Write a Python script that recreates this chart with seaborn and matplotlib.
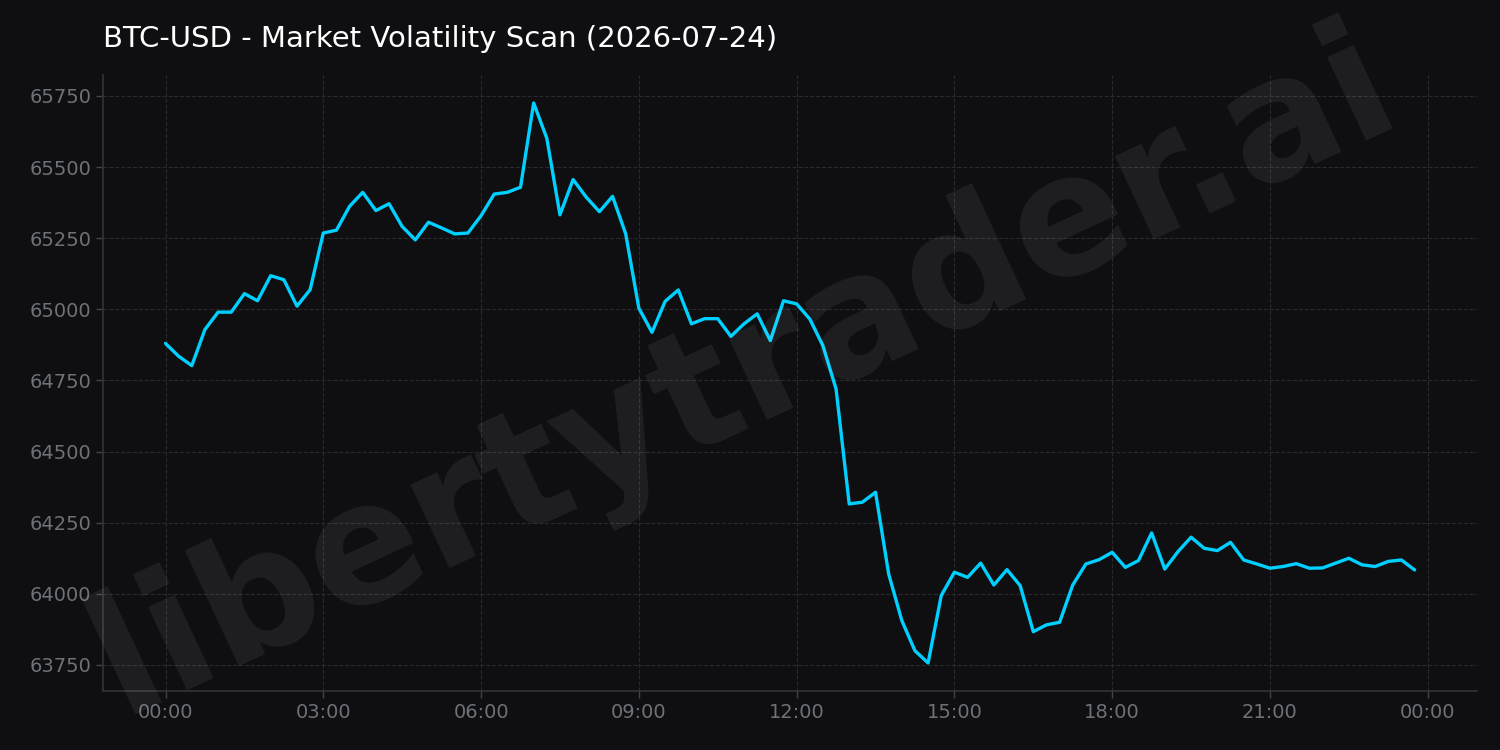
import numpy as np
import pandas as pd
import matplotlib
matplotlib.use("Agg")
import matplotlib.pyplot as plt
import matplotlib.dates as mdates
import seaborn as sns

title = "BTC-USD - Market Volatility Scan (2026-07-24)"
watermark = "libertytrader.ai"
start_time = "2026-07-24 00:00"
step = "15min"
prices = [
    64880, 64835, 64802, 64929, 64990, 64990, 65055, 65030, 65118, 65104,
    65011, 65069, 65268, 65278, 65362, 65411, 65347, 65371, 65291, 65244,
    65306, 65286, 65265, 65268, 65329, 65405, 65411, 65429, 65725, 65601,
    65332, 65456, 65394, 65343, 65397, 65265, 65004, 64919, 65028, 65068,
    64949, 64967, 64967, 64905, 64949, 64984, 64890, 65030, 65019, 64966,
    64872, 64720, 64316, 64322, 64357, 64070, 63906, 63800, 63757, 63994,
    64076, 64058, 64108, 64031, 64085, 64029, 63867, 63891, 63900, 64031,
    64105, 64120, 64146, 64093, 64117, 64214, 64087, 64148, 64199, 64160,
    64152, 64181, 64119, 64105, 64090, 64096, 64106, 64090, 64091, 64108,
    64125, 64102, 64096, 64114, 64119, 64084,
]

times = pd.date_range(start_time, periods=len(prices), freq=step)
df = pd.DataFrame({"time": times, "price": prices})

bg = "#0f0f12"
sns.set_theme(style="dark")
plt.rcParams["font.family"] = ["DejaVu Sans"]

fig, ax = plt.subplots(figsize=(15, 7.5), dpi=100)
fig.patch.set_facecolor(bg)
ax.set_facecolor(bg)
fig.subplots_adjust(left=0.0687, right=0.9847, top=0.9, bottom=0.0787)

sns.lineplot(data=df, x="time", y="price", ax=ax, color="#00d0ff", linewidth=2.4)

ax.xaxis.set_major_locator(mdates.HourLocator(byhour=range(0, 24, 3)))
ax.xaxis.set_major_formatter(mdates.DateFormatter("%H:%M"))
ax.margins(x=0.05, y=0.05)

ax.grid(True, color="#2a2a2e", linestyle="--", linewidth=0.8)
for s in ["top", "right"]:
    ax.spines[s].set_visible(False)
for s in ["left", "bottom"]:
    ax.spines[s].set_color("#333338")
    ax.spines[s].set_linewidth(1.2)
ax.tick_params(colors="#6e7178", labelsize=14, length=5, width=1, color="#444448",
               bottom=True, left=True)
for lbl in ax.get_xticklabels() + ax.get_yticklabels():
    lbl.set_color("#6e7178")
ax.set_xlabel("")
ax.set_ylabel("")
ax.set_title(title, loc="left", color="white", fontsize=21, pad=20.5)

fig.text(0.496, 0.502, watermark, fontsize=120, fontweight="bold", color="white",
         alpha=0.07, rotation=25, ha="center", va="center", zorder=0)

fig.savefig("out.png", dpi=100, facecolor=bg)
